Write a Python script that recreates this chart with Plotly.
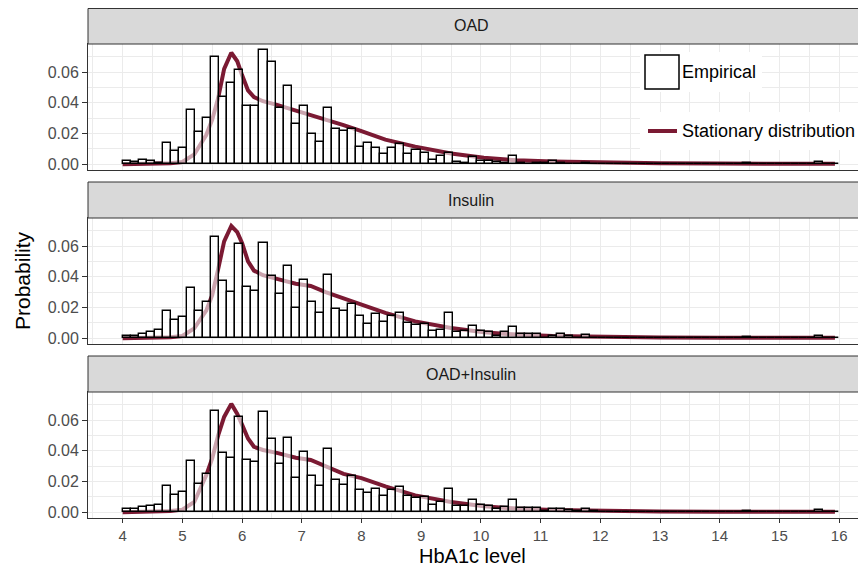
import numpy as np
import plotly.graph_objects as go

# ---------------- data ----------------
PANELS = ["OAD", "Insulin", "OAD+Insulin"]
BIN_START, BIN_END, N_BINS = 4.0, 16.0, 89

TAIL_SMALL = [0.0003, 0.0003, 0.0002, 0.0004, 0.0002, 0.0003, 0.0002, 0.0002, 0.0003,
              0.0002, 0.0002, 0.0002, 0.0002, 0.0002, 0.0001, 0.0002, 0.0001, 0.0002,
              0.0008, 0.0002, 0.0001, 0.0001, 0.0002, 0.0001, 0.0001, 0.0002, 0.0003,
              0.0012, 0.0003, 0.0002]

emp_oad = [0.0024, 0.0015, 0.0029, 0.0020, 0.0007, 0.0136, 0.0086, 0.0108, 0.0350, 0.0207,
           0.0300, 0.0697, 0.0437, 0.0530, 0.0613, 0.0376, 0.0376, 0.0745, 0.0668, 0.0365,
           0.0512, 0.0260, 0.0380, 0.0200, 0.0147, 0.0365, 0.0229, 0.0218, 0.0229, 0.0112,
           0.0140, 0.0108, 0.0068, 0.0108, 0.0134, 0.0064, 0.0090, 0.0075, 0.0030, 0.0053,
           0.0075, 0.0015, 0.0011, 0.0046, 0.0020, 0.0020, 0.0015, 0.0011, 0.0055, 0.0007,
           0.0004, 0.0007, 0.0007, 0.0024, 0.0007, 0.0004, 0.0003, 0.0010, 0.0004] + TAIL_SMALL

emp_ins = [0.0013, 0.0013, 0.0030, 0.0043, 0.0057, 0.0180, 0.0120, 0.0137, 0.0328, 0.0180,
           0.0237, 0.0660, 0.0370, 0.0298, 0.0615, 0.0335, 0.0307, 0.0620, 0.0404, 0.0290,
           0.0470, 0.0198, 0.0376, 0.0235, 0.0165, 0.0410, 0.0193, 0.0180, 0.0226, 0.0143,
           0.0096, 0.0159, 0.0104, 0.0143, 0.0165, 0.0100, 0.0089, 0.0093, 0.0046, 0.0057,
           0.0165, 0.0039, 0.0046, 0.0083, 0.0050, 0.0039, 0.0017, 0.0041, 0.0072, 0.0030,
           0.0026, 0.0026, 0.0004, 0.0017, 0.0030, 0.0017, 0.0004, 0.0020, 0.0004] + TAIL_SMALL

emp_both = [0.0024, 0.0020, 0.0035, 0.0041, 0.0050, 0.0172, 0.0115, 0.0133, 0.0333, 0.0187,
            0.0252, 0.0660, 0.0387, 0.0354, 0.0617, 0.0343, 0.0324, 0.0652, 0.0478, 0.0313,
            0.0483, 0.0220, 0.0390, 0.0236, 0.0172, 0.0412, 0.0209, 0.0180, 0.0238, 0.0146,
            0.0124, 0.0154, 0.0104, 0.0143, 0.0165, 0.0104, 0.0096, 0.0100, 0.0050, 0.0065,
            0.0150, 0.0043, 0.0043, 0.0083, 0.0050, 0.0039, 0.0022, 0.0035, 0.0078, 0.0030,
            0.0026, 0.0026, 0.0009, 0.0024, 0.0024, 0.0013, 0.0009, 0.0020, 0.0009] + TAIL_SMALL

stat_x = [4.0, 4.4, 4.8, 5.0, 5.2, 5.4, 5.5, 5.6, 5.7, 5.82, 5.92, 6.0, 6.1, 6.2, 6.35, 6.6,
          6.9, 7.15, 7.4, 7.7, 8.0, 8.4, 8.9, 9.5, 10.05, 10.6, 11.2, 12.0, 13.0, 14.0, 15.0, 15.93]
stat_oad = [0.0, 0.0002, 0.0007, 0.0015, 0.0065, 0.019, 0.029, 0.043, 0.062, 0.0725, 0.067,
            0.058, 0.048, 0.0437, 0.041, 0.0385, 0.035, 0.0325, 0.029, 0.0255, 0.0215, 0.016,
            0.0115, 0.0070, 0.0042, 0.0026, 0.0018, 0.0011, 0.0007, 0.0005, 0.0004, 0.0003]
stat_ins = [0.0, 0.0002, 0.0007, 0.0015, 0.0065, 0.018, 0.028, 0.045, 0.063, 0.073, 0.069,
            0.062, 0.050, 0.044, 0.041, 0.0385, 0.0355, 0.034, 0.030, 0.026, 0.0222, 0.0165,
            0.011, 0.0067, 0.0039, 0.0024, 0.0015, 0.0009, 0.0006, 0.0004, 0.0003, 0.0003]
stat_both = [0.0, 0.0002, 0.0008, 0.0017, 0.0067, 0.024, 0.035, 0.050, 0.062, 0.0705, 0.064,
             0.057, 0.048, 0.0426, 0.0405, 0.0385, 0.0355, 0.034, 0.030, 0.025, 0.0222, 0.0168,
             0.011, 0.0067, 0.0039, 0.0024, 0.0015, 0.0009, 0.0006, 0.0004, 0.0003, 0.0003]

X_TICKS = list(range(4, 17))
Y_TICKS = [0.0, 0.02, 0.04, 0.06]
Y_TICK_TEXT = ["0.00", "0.02", "0.04", "0.06"]

EMPIRICAL = [emp_oad, emp_ins, emp_both]
STATIONARY = [stat_oad, stat_ins, stat_both]

# ---------------- layout geometry ----------------
# The page adds an 8px body margin; all pixel positions below are in
# reference-image coordinates and converted with that offset.
OFF = 8
W, H = 866 - OFF, 569 - OFF
ML, MR, MT, MB = 88 - OFF, 0, 0, 51
PW = W - ML - MR
PH = H - MT - MB

def fx(px):
    return (px - OFF - ML) / PW

def fy(py):
    return (H - MB - (py - OFF)) / PH

PLOTS = [(44, 170), (218, 344), (392, 518)]
STRIPS = [(8, 44), (182, 218), (356, 392)]

RED = "#7B1A33"
GRID = "#EBEBEB"
BORDER = "#333333"
FONT = "Liberation Sans, Arial, sans-serif"
XR = [3.42, 16.45]
YR = [-0.0037, 0.0782]

edges = np.linspace(BIN_START, BIN_END, N_BINS + 1)
centers = (edges[:-1] + edges[1:]) / 2
bw = edges[1] - edges[0]

fig = go.Figure()
layout = dict(
    width=W, height=H,
    margin=dict(l=ML, r=MR, t=MT, b=MB, pad=0),
    paper_bgcolor="white", plot_bgcolor="white",
    showlegend=False,
    font=dict(family=FONT, color="#000000"),
    bargap=0,
)

shapes = []
annotations = []

for i in range(3):
    n = i + 1
    ov = i + 4
    top, bot = PLOTS[i]
    dom = [max(0.0, fy(bot)), min(1.0, fy(top))]
    xa = "x" if n == 1 else f"x{n}"
    ya = "y" if n == 1 else f"y{n}"
    layout[f"xaxis{'' if n == 1 else n}"] = dict(
        domain=[0, 1], anchor=ya, range=XR,
        tickvals=X_TICKS, showticklabels=(n == 3),
        ticks="outside" if n == 3 else "", ticklen=4, tickcolor=BORDER, tickwidth=1,
        tickfont=dict(size=15, color="#4D4D4D", family=FONT),
        showgrid=True, gridcolor=GRID, gridwidth=1.1,
        minor=dict(dtick=0.5, tick0=3.5, showgrid=True, gridcolor=GRID, gridwidth=0.6, ticks=""),
        showline=True, linecolor=BORDER, linewidth=1, mirror=True,
        zeroline=False,
    )
    layout[f"yaxis{'' if n == 1 else n}"] = dict(
        domain=dom, anchor=xa, range=YR,
        tickvals=Y_TICKS, ticktext=Y_TICK_TEXT,
        ticks="outside", ticklen=5, tickcolor=BORDER, tickwidth=1,
        tickfont=dict(size=16, color="#4D4D4D", family=FONT),
        showgrid=True, gridcolor=GRID, gridwidth=1.1,
        minor=dict(dtick=0.01, tick0=0.01, showgrid=True, gridcolor=GRID, gridwidth=0.6, ticks=""),
        showline=True, linecolor=BORDER, linewidth=1, mirror=False,
        zeroline=False,
    )
    layout[f"xaxis{ov}"] = dict(overlaying=xa, anchor=f"y{ov}", range=XR, visible=False)
    layout[f"yaxis{ov}"] = dict(overlaying=ya, anchor=f"x{ov}", range=YR, visible=False)

    fig.add_trace(go.Scatter(
        x=stat_x, y=STATIONARY[i], mode="lines",
        line=dict(color=RED, width=4), xaxis=xa, yaxis=ya,
        name="Stationary distribution", hoverinfo="skip"))
    fig.add_trace(go.Bar(
        x=centers, y=EMPIRICAL[i], width=bw,
        marker=dict(color="rgba(255,255,255,0.6)", line=dict(color="#000000", width=1.4)),
        xaxis=f"x{ov}", yaxis=f"y{ov}", name="Empirical", hoverinfo="skip"))

    st, sb = STRIPS[i]
    shapes.append(dict(type="rect", xref="paper", yref="paper",
                       x0=0, x1=1.01, y0=fy(sb), y1=min(fy(st), 0.999),
                       fillcolor="#D9D9D9", line=dict(color=BORDER, width=1), layer="above"))
    annotations.append(dict(text=PANELS[i], xref="paper", yref="paper",
                            x=fx(471), y=fy((st + sb) / 2), showarrow=False,
                            xanchor="center", yanchor="middle",
                            font=dict(size=16, color="#1A1A1A", family=FONT)))

shapes += [
    dict(type="rect", xref="paper", yref="paper", x0=fx(640), x1=fx(762), y0=fy(92), y1=fy(52),
         fillcolor="white", line=dict(width=0), layer="above"),
    dict(type="rect", xref="paper", yref="paper", x0=fx(640), x1=1.0, y0=fy(150), y1=fy(112),
         fillcolor="white", line=dict(width=0), layer="above"),
    dict(type="rect", xref="paper", yref="paper", x0=fx(645), x1=fx(679), y0=fy(89), y1=fy(55),
         fillcolor="white", line=dict(color="#000000", width=1.5), layer="above"),
    dict(type="line", xref="paper", yref="paper", x0=fx(648), x1=fx(677), y0=fy(131), y1=fy(131),
         line=dict(color=RED, width=4), layer="above"),
]
annotations += [
    dict(text="Empirical", xref="paper", yref="paper", x=fx(680), y=fy(72),
         xanchor="left", yanchor="middle", showarrow=False,
         font=dict(size=18, color="#000000", family=FONT)),
    dict(text="Stationary distribution", xref="paper", yref="paper", x=fx(680), y=fy(131),
         xanchor="left", yanchor="middle", showarrow=False,
         font=dict(size=18, color="#000000", family=FONT)),
    dict(text="Probability", xref="paper", yref="paper", x=fx(22), y=fy(281),
         xanchor="center", yanchor="middle", showarrow=False, textangle=-90,
         font=dict(size=21, color="#000000", family=FONT)),
    dict(text="HbA1c level", xref="paper", yref="paper", x=fx(472), y=fy(556),
         xanchor="center", yanchor="middle", showarrow=False,
         font=dict(size=20, color="#000000", family=FONT)),
]
layout["shapes"] = shapes
layout["annotations"] = annotations
fig.update_layout(**layout)
fig.write_html("out.html")
